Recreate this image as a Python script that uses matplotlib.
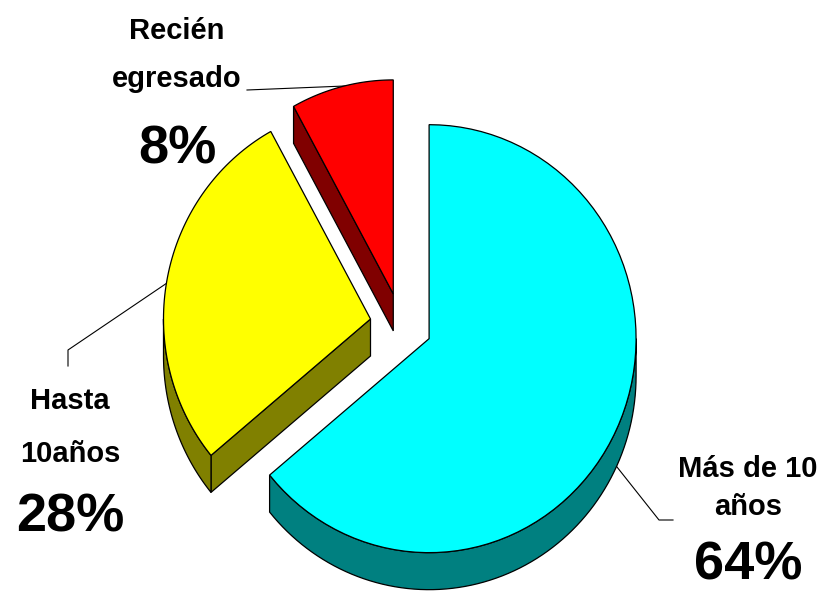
import numpy as np
import matplotlib
matplotlib.use('Agg')
import matplotlib.pyplot as plt
from matplotlib.patches import Polygon

# datos
categorias = ['Más de 10\naños', 'Hasta\n10años', 'Recién\negresado']
porcentajes = [64, 28, 8]
colores = ['#00FFFF', '#FFFF00', '#FF0000']
colores_lado = ['#008080', '#808000', '#800000']

# geometria del pastel (en pixeles)
cx, cy = 401, 325
rx, ry = 207, 214
explode = 0.15
prof = 37

plt.rcParams['font.family'] = ['Liberation Sans', 'DejaVu Sans']

fig = plt.figure(figsize=(8.25, 5.94), dpi=100)
ax = fig.add_axes([0, 0, 1, 1])
ax.set_xlim(0, 825)
ax.set_ylim(594, 0)
ax.axis('off')


def punto(x0, y0, t):
    t = np.radians(t)
    return x0 + rx * np.cos(t), y0 - ry * np.sin(t)


def arco(x0, y0, t1, t2, n=80):
    t = np.radians(np.linspace(t1, t2, n))
    return np.column_stack([x0 + rx * np.cos(t), y0 - ry * np.sin(t)])


# angulos: empieza arriba y va en sentido horario
total = sum(porcentajes)
fin = 90.0
cunas = []
for p in porcentajes:
    ini = fin - 360.0 * p / total
    cunas.append((ini, fin))
    fin = ini

# lineas guia (debajo del pastel)
ax.plot([247, 345], [90, 86], color='black', lw=0.8, zorder=1)
ax.plot([68, 68, 167], [366, 350, 283], color='black', lw=0.8, zorder=1)
ax.plot([673, 659, 617], [520, 520, 467], color='black', lw=0.8, zorder=1)

z = 2
# se dibuja de atras hacia adelante
for i in [2, 1, 0]:
    a, b = cunas[i]
    m = np.radians((a + b) / 2)
    x0 = cx + rx * np.cos(m) * explode
    y0 = cy - ry * np.sin(m) * explode
    lado = dict(facecolor=colores_lado[i], edgecolor='black', lw=0.9, zorder=z)
    # caras radiales
    for t, vis in [(a, np.cos(np.radians(a)) > 1e-6), (b, np.cos(np.radians(b)) < -1e-6)]:
        if vis:
            px, py = punto(x0, y0, t)
            ax.add_patch(Polygon([(x0, y0), (px, py), (px, py + prof), (x0, y0 + prof)], **lado))
    # cara exterior (mitad inferior)
    for k in [-1, 0, 1]:
        t1 = max(a, -180 + 360 * k)
        t2 = min(b, 360 * k)
        if t2 > t1:
            arr = arco(x0, y0, t1, t2)
            aba = arr[::-1] + [0, prof]
            ax.add_patch(Polygon(np.vstack([arr, aba]), **lado))
    # cara superior
    pts = np.vstack([[x0, y0], arco(x0, y0, a, b)])
    ax.add_patch(Polygon(pts, facecolor=colores[i], edgecolor='black', lw=0.9, zorder=z + 1))
    z += 2

# etiquetas
pos_etiquetas = [(748, [477, 515], 580), (70, [409, 462], 532), (177, [39, 87], 163)]
for i, (x, bases, bp) in enumerate(pos_etiquetas):
    for linea, yb in zip(categorias[i].split('\n'), bases):
        ax.text(x, yb, linea, ha='center', va='baseline', fontsize=21, fontweight='bold')
    ax.text(x, bp, f'{porcentajes[i]}%', ha='center', va='baseline', fontsize=39, fontweight='bold')

fig.savefig('out.png', dpi=100)
